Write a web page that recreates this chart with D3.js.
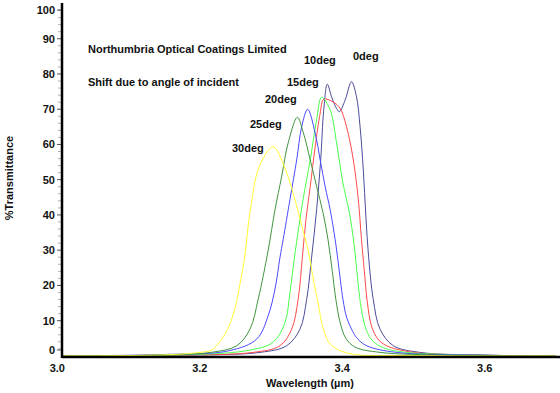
<!DOCTYPE html>
<html>
<head>
<meta charset="utf-8">
<script src="https://cdn.jsdelivr.net/npm/d3@7"></script>
<style>
	body { margin: 0; background: #fff; }
	svg { display: block; font-family: 'Liberation Sans', Arial, sans-serif; font-weight: bold; }
</style>
</head>
<body>
<script>
	// -----------------------------DATA--------------------------------

	// [wavelength µm, % transmittance]
	const deg0 = [[3.0, 0], [3.15, 0.2], [3.2845, 1], [3.322, 2.9], [3.3406, 7.6], [3.35, 16], [3.357, 28], [3.364, 41.5], [3.3697, 55.6], [3.374, 69.8], [3.379, 77.1], [3.385, 73.5], [3.392, 70.2], [3.396, 69.3], [3.404, 72.6], [3.413, 77.8], [3.42, 73.5], [3.425, 65], [3.4295, 52.8], [3.433, 40], [3.437, 28], [3.4435, 16], [3.453, 7.6], [3.4716, 2.9], [3.509, 1], [3.6, 0.2], [3.7, 0]];
	const deg10 = [[3.0, 0], [3.15, 0.2], [3.275, 1], [3.3126, 2.9], [3.329, 7.6], [3.338, 16], [3.344, 28], [3.349, 38.7], [3.355, 48], [3.362, 59.4], [3.369, 68.8], [3.374, 72.8], [3.387, 72.1], [3.397, 70.2], [3.406, 65], [3.4155, 55.6], [3.4225, 44.4], [3.427, 33], [3.431, 24], [3.435, 15.5], [3.441, 8.5], [3.45, 4.8], [3.462, 2.9], [3.5, 1], [3.6, 0.2], [3.7, 0]];
	const deg15 = [[3.0, 0], [3.15, 0.2], [3.266, 1.5], [3.303, 3.9], [3.3196, 9.5], [3.3266, 18], [3.3336, 29], [3.345, 44.4], [3.355, 55.6], [3.364, 67], [3.371, 73.4], [3.383, 69.8], [3.392, 60.4], [3.401, 49], [3.411, 39.6], [3.4175, 30], [3.422, 21], [3.427, 13], [3.434, 7.2], [3.443, 4.2], [3.458, 2.3], [3.49, 1], [3.6, 0.2], [3.7, 0]];
	const deg20 = [[3.0, 0], [3.15, 0.4], [3.242, 1.5], [3.28, 4.8], [3.296, 11.4], [3.3056, 19], [3.3126, 28], [3.317, 33], [3.3266, 44.4], [3.336, 55.6], [3.343, 65], [3.3514, 70], [3.362, 63.2], [3.369, 55.6], [3.376, 48], [3.383, 41.5], [3.39, 33], [3.394, 27], [3.401, 16], [3.406, 11], [3.413, 7.6], [3.42, 5.2], [3.434, 2.9], [3.476, 1], [3.6, 0.2], [3.7, 0]];
	const deg25 = [[3.0, 0], [3.15, 0.3], [3.219, 1.1], [3.252, 2.9], [3.2705, 7.6], [3.282, 16.1], [3.296, 30], [3.3056, 41.5], [3.315, 51], [3.324, 60.4], [3.337, 67.7], [3.345, 63.6], [3.355, 55.6], [3.364, 48.1], [3.373, 40.6], [3.38, 33], [3.386, 24], [3.391, 16], [3.397, 9.5], [3.405, 5], [3.418, 2.5], [3.453, 1], [3.55, 0.2], [3.7, 0]];
	const deg30 = [[3.0, 0], [3.15, 0.3], [3.2, 1], [3.217, 1.7], [3.228, 4], [3.24, 8], [3.25, 14], [3.256, 20], [3.263, 28], [3.27, 40], [3.284, 54], [3.303, 59.3], [3.32, 53], [3.334, 44], [3.343, 37], [3.352, 30], [3.36, 21], [3.366, 15], [3.373, 8], [3.383, 3.4], [3.407, 0.8], [3.5, 0.1], [3.7, 0]];

	const seriesNames = ['0deg', '10deg', '15deg', '20deg', '25deg', '30deg'];
	const seriesColors = ['#4c4c9c', '#ff4a4a', '#4aff4a', '#4a4aff', '#3f953f', '#ffff30'];
	const seriesData = [deg0, deg10, deg15, deg20, deg25, deg30];

	const yTicks = [0, 10, 20, 30, 40, 50, 60, 70, 80, 90, 100];
	const xTicks = [3.0, 3.2, 3.4, 3.6];

	const noteLines = ['Northumbria Optical Coatings Limited', 'Shift due to angle of incident'];

	// -----------------------------SCALES--------------------------------

	const width = 560;
	const height = 393;

	const x = d3.scaleLinear().domain([3.0, 3.7]).range([57.3, 556]);
	const y = d3.scaleLinear().domain([0, 100]).range([355.9, 3.5]);
	const axisX = 62;
	const axisY = 357;

	const svg = d3.create('svg').attr('width', width).attr('height', height).attr('viewBox', [0, 0, width, height]);

	svg.append('defs')
		.append('clipPath')
		.attr('id', 'plot-clip')
		.append('rect')
		.attr('x', axisX)
		.attr('y', 0)
		.attr('width', width - axisX)
		.attr('height', axisY);

	// -----------------------------Y AXIS--------------------------------

	const yAxis = svg.append('g').attr('id', 'y-axis');

	// minor ticks every 2 %
	yAxis.append('g')
		.selectAll('line')
		.data(d3.range(2, 100, 2).filter((d) => d % 10 !== 0))
		.join('line')
		.attr('x1', axisX - 4)
		.attr('x2', axisX)
		.attr('y1', (d) => y(d))
		.attr('y2', (d) => y(d))
		.attr('stroke', '#b0b0b0')
		.attr('stroke-width', 1);

	// end labels sit a little inside the axis, like the original
	const labelY = (d) => Math.max(10, Math.min(350, y(d)));

	yAxis.append('g')
		.selectAll('line')
		.data(yTicks)
		.join('line')
		.attr('x1', axisX - 5)
		.attr('x2', axisX)
		.attr('y1', (d) => labelY(d))
		.attr('y2', (d) => labelY(d))
		.attr('stroke', '#555')
		.attr('stroke-width', 1);

	yAxis.append('g')
		.selectAll('text')
		.data(yTicks)
		.join('text')
		.attr('x', 55)
		.attr('y', (d) => labelY(d))
		.attr('dy', '0.35em')
		.attr('text-anchor', 'end')
		.attr('font-size', 11)
		.attr('fill', '#111')
		.text((d) => d);

	svg.append('text')
		.attr('transform', 'translate(13,178) rotate(-90)')
		.attr('text-anchor', 'middle')
		.attr('font-size', 11)
		.attr('fill', '#111')
		.text('%Transmittance');

	// -----------------------------X AXIS--------------------------------

	svg.append('g')
		.selectAll('text')
		.data(xTicks)
		.join('text')
		.attr('x', (d) => x(d))
		.attr('y', 372)
		.attr('text-anchor', 'middle')
		.attr('font-size', 11)
		.attr('fill', '#111')
		.text((d) => d.toFixed(1));

	svg.append('text')
		.attr('x', 310)
		.attr('y', 387)
		.attr('text-anchor', 'middle')
		.attr('font-size', 11)
		.attr('fill', '#111')
		.text('Wavelength (µm)');

	// -----------------------------CURVES--------------------------------

	const line = d3
		.line()
		.x((d) => x(d[0]))
		.y((d) => y(d[1]))
		.curve(d3.curveCatmullRom.alpha(0.5));

	svg.append('g')
		.attr('clip-path', 'url(#plot-clip)')
		.selectAll('path')
		.data(seriesData)
		.join('path')
		.attr('d', (d) => line(d))
		.attr('fill', 'none')
		.attr('stroke', (d, i) => seriesColors[i])
		.attr('stroke-width', 1);

	// axis lines drawn over the curve feet
	svg.append('line')
		.attr('x1', axisX)
		.attr('x2', width)
		.attr('y1', axisY)
		.attr('y2', axisY)
		.attr('stroke', '#000')
		.attr('stroke-width', 2.5);

	svg.append('line')
		.attr('x1', axisX)
		.attr('x2', axisX)
		.attr('y1', 3)
		.attr('y2', axisY + 1)
		.attr('stroke', '#000')
		.attr('stroke-width', 2.5);

	// -----------------------------ANNOTATIONS--------------------------------

	svg.append('g')
		.selectAll('text')
		.data(noteLines)
		.join('text')
		.attr('x', 88)
		.attr('y', (d, i) => 53 + i * 33)
		.attr('font-size', 11)
		.attr('fill', '#111')
		.text((d) => d);

	// angle labels, placed by hand next to their peaks
	const labelPos = [
		[353, 60],
		[304, 64],
		[287, 86],
		[265, 103],
		[250, 128],
		[232, 152],
	];

	svg.append('g')
		.selectAll('text')
		.data(seriesNames)
		.join('text')
		.attr('x', (d, i) => labelPos[i][0])
		.attr('y', (d, i) => labelPos[i][1])
		.attr('font-size', 11)
		.attr('fill', '#111')
		.text((d) => d);

	document.body.appendChild(svg.node());
</script>
</body>
</html>
